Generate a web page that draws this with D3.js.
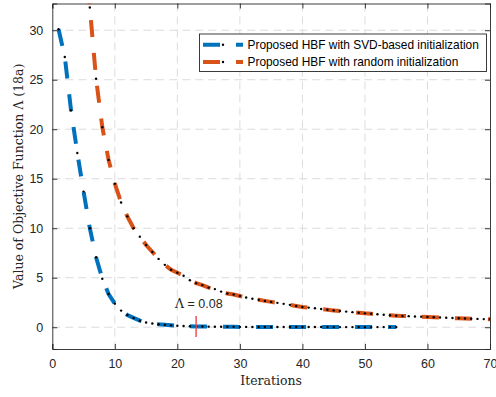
<!DOCTYPE html>
<html>
<head>
<meta charset="utf-8">
<script src="https://cdn.jsdelivr.net/npm/d3@7"></script>
<style>
  html, body { margin: 0; padding: 0; background: #fff; }
  svg { display: block; }
</style>
</head>
<body>
<svg id="chart" width="496" height="397"></svg>
<script>
// objective value per iteration
const svdStart = 1;
const svdValues = [30.1, 27.3, 21.9, 17.6, 13.7, 10.0, 7.07, 4.9, 3.35, 2.38,
  1.68, 1.24, 0.94, 0.66, 0.48, 0.38, 0.3, 0.24, 0.19, 0.15,
  0.12, 0.1, 0.08, 0.07, 0.06, 0.05, 0.045, 0.04, 0.036, 0.033,
  0.03, 0.028, 0.026, 0.024, 0.022, 0.021, 0.02, 0.019, 0.018, 0.017,
  0.016, 0.015, 0.015, 0.014, 0.014, 0.013, 0.013, 0.012, 0.012, 0.011,
  0.011, 0.011, 0.01, 0.01, 0.01];
const rndStart = 5;
const rndValues = [41, 32.3, 25.1, 20.2, 16.9, 14.5, 12.6, 11.2, 10.0, 9.15,
  8.3, 7.6, 6.9, 6.3, 5.8, 5.5, 5.2, 4.75, 4.45, 4.25,
  4.0, 3.85, 3.6, 3.4, 3.3, 3.15, 3.0, 2.88, 2.77, 2.66,
  2.56, 2.46, 2.36, 2.26, 2.15, 2.05, 1.98, 1.91, 1.84, 1.77,
  1.7, 1.64, 1.58, 1.52, 1.46, 1.4, 1.36, 1.31, 1.26, 1.21,
  1.17, 1.14, 1.12, 1.09, 1.07, 1.04, 1.01, 0.98, 0.96, 0.93,
  0.9, 0.88, 0.86, 0.84, 0.82, 0.8];
const seriesNames = ['Proposed HBF with SVD-based initialization', 'Proposed HBF with random initialization'];
const seriesColors = ['#0072BD', '#D95319'];
const xTicks = [0, 10, 20, 30, 40, 50, 60, 70];
const yTicks = [0, 5, 10, 15, 20, 25, 30];
const markIter = 23, markLabel = '= 0.08';

const svg = d3.select('#chart');
const L = 52.3, R = 490, T = 3.5, B = 349;
const x = d3.scaleLinear().domain([0, 70]).range([L, R]);
const y = d3.scaleLinear().domain([-2.2, 32.7]).range([B, T]);
const sans = 'Liberation Sans, Arial, sans-serif', serif = 'DejaVu Serif, serif';

svg.append('rect').attr('x', L).attr('y', T).attr('width', R - L).attr('height', B - T).attr('fill', '#fff');
svg.append('clipPath').attr('id', 'clip').append('rect')
  .attr('x', L).attr('y', T).attr('width', R - L).attr('height', B - T);

// grid
const grid = svg.append('g').attr('stroke', '#dcdcdc').attr('stroke-width', 1).attr('stroke-dasharray', '8,5');
grid.selectAll('line.v').data(xTicks.slice(1, -1)).join('line').attr('class', 'v')
  .attr('x1', d => x(d)).attr('x2', d => x(d)).attr('y1', T).attr('y2', B);
grid.selectAll('line.h').data(yTicks).join('line').attr('class', 'h')
  .attr('x1', L).attr('x2', R).attr('y1', d => y(d)).attr('y2', d => y(d));

// axes (box with inward ticks on all sides)
const ax = svg.append('g').attr('font-family', sans).attr('font-size', 12.5).attr('fill', '#262626');
ax.append('g').attr('transform', `translate(0,${B})`)
  .call(d3.axisBottom(x).tickValues(xTicks).tickSize(-5).tickPadding(10));
ax.append('g').attr('transform', `translate(${L},0)`)
  .call(d3.axisLeft(y).tickValues(yTicks).tickSize(-5).tickPadding(9));
ax.append('g').attr('transform', `translate(0,${T})`)
  .call(d3.axisTop(x).tickValues(xTicks).tickSize(-5).tickFormat(''));
ax.append('g').attr('transform', `translate(${R},0)`)
  .call(d3.axisRight(y).tickValues(yTicks).tickSize(-5).tickFormat(''));
ax.selectAll('.domain, .tick line').attr('stroke', '#262626').attr('stroke-width', 0.9);
ax.selectAll('.tick text').attr('fill', '#262626').attr('font-family', sans).attr('font-size', 12.5);

// series
const series = [
  { pts: svdValues.map((v, i) => [svdStart + i, v]), color: seriesColors[0] },
  { pts: rndValues.map((v, i) => [rndStart + i, v]), color: seriesColors[1] },
];
const line = d3.line().x(d => x(d[0])).y(d => y(d[1]));
const plot = svg.append('g').attr('clip-path', 'url(#clip)');
series.forEach(s => {
  plot.append('path').datum(s.pts).attr('d', line).attr('fill', 'none')
    .attr('stroke', s.color).attr('stroke-width', 4).attr('stroke-dasharray', '17,16');
});
series.forEach(s => {
  plot.append('g').selectAll('circle').data(s.pts).join('circle')
    .attr('cx', d => x(d[0])).attr('cy', d => y(d[1])).attr('r', 1.2).attr('fill', '#000');
});

// annotation
svg.append('line').attr('x1', x(markIter)).attr('x2', x(markIter)).attr('y1', 316).attr('y2', 337)
  .attr('stroke', '#f0505a').attr('stroke-width', 1.5);
const ann = svg.append('text').attr('x', 175).attr('y', 308).attr('fill', '#262626')
  .attr('font-family', sans).attr('font-size', 12.5);
ann.append('tspan').attr('font-family', serif).text('Λ');
ann.append('tspan').text(' ' + markLabel);

// legend
const lg = svg.append('g');
lg.append('rect').attr('x', 199.5).attr('y', 34).attr('width', 287).attr('height', 37.5)
  .attr('fill', '#fff').attr('stroke', '#262626').attr('stroke-width', 0.9);
seriesNames.forEach((n, i) => {
  const cy = 44.7 + i * 17.3;
  lg.append('line').attr('x1', 203).attr('x2', 243).attr('y1', cy).attr('y2', cy)
    .attr('stroke', seriesColors[i]).attr('stroke-width', 4).attr('stroke-dasharray', '17,16');
  lg.append('circle').attr('cx', 223).attr('cy', cy).attr('r', 1.2).attr('fill', '#000');
  lg.append('text').attr('x', 247.5).attr('y', cy + 4.2).attr('font-family', sans).attr('font-size', 11.9)
    .attr('fill', '#000').text(n);
});

// axis labels
svg.append('text').attr('x', (L + R) / 2).attr('y', 385).attr('text-anchor', 'middle')
  .attr('font-family', serif).attr('font-size', 12.5).attr('fill', '#262626').text('Iterations');
svg.append('text').attr('transform', `translate(23,${(T + B) / 2}) rotate(-90)`).attr('text-anchor', 'middle')
  .attr('font-family', serif).attr('font-size', 12.5).attr('fill', '#262626')
  .text('Value of Objective Function Λ (18a)');
</script>
</body>
</html>
